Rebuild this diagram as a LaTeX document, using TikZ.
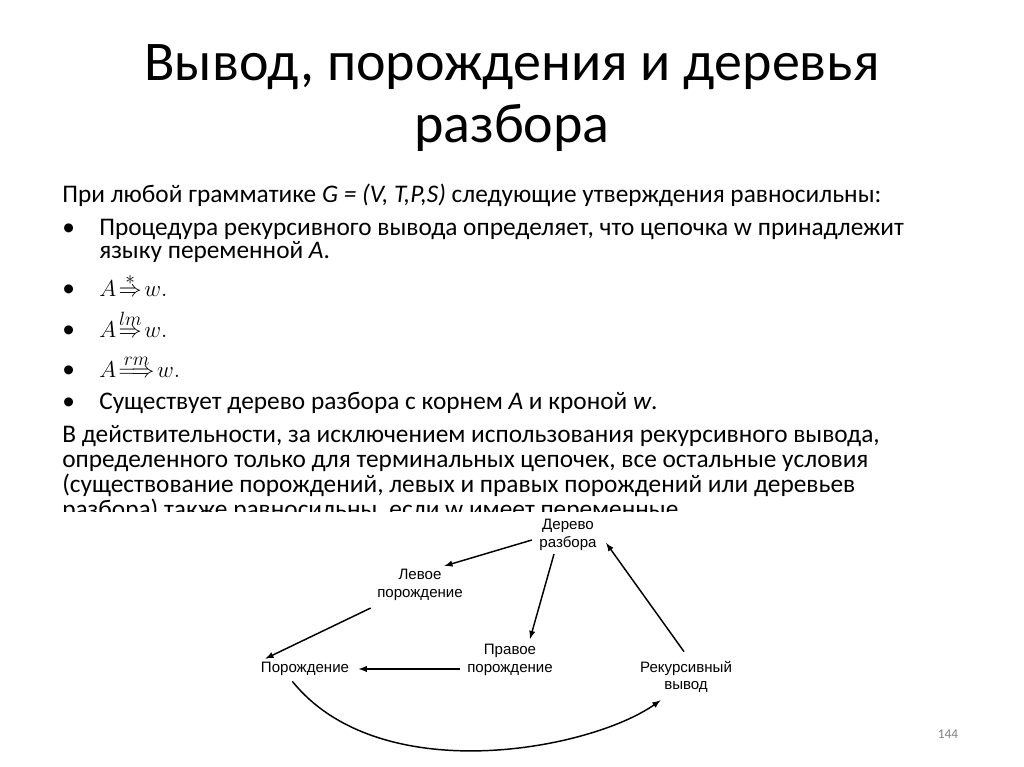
\documentclass[tikz,border=0pt]{standalone}
\usepackage{fontspec}
\setmainfont{Carlito}
\newfontfamily\diag{Liberation Sans}
\usetikzlibrary{calc}
\newcommand{\myarr}[2]{\mathrel{\mathop{#1}\limits^{\scriptstyle #2}}}
\begin{document}
\begin{tikzpicture}[x=0.75pt,y=-0.75pt,
  txt/.style={anchor=base west,inner sep=0pt,font=\fontsize{19pt}{22pt}\selectfont},
  lbl/.style={align=center,inner sep=1pt,font=\diag\fontsize{11.3pt}{13pt}\selectfont},
  arr/.style={-latex,line width=1.1pt}]
\useasboundingbox (0,0) rectangle (1024,767);
\node[font=\fontsize{42pt}{46pt}\selectfont,align=center] (title) at (512,98) {Вывод, порождения и деревья\\разбора};
\node[txt] (l1) at (62,202) {При любой грамматике \textit{G = (V, T,P,S)} следующие утверждения равносильны:};
\node[txt] (b1) at (62,235) {•};
\node[txt] (l2) at (99,235) {Процедура рекурсивного вывода определяет, что цепочка w принадлежит};
\node[txt] (l3) at (99,258) {языку переменной \textit{A}.};
\node[txt] (b2) at (62,296) {•};
\node[txt] (m1) at (99,296) {$A\!\myarr{\Rightarrow}{*}\! w.$};
\node[txt] (b3) at (62,337) {•};
\node[txt] (m2) at (99,337) {$A\!\myarr{\Rightarrow}{lm}\! w.$};
\node[txt] (b4) at (62,377) {•};
\node[txt] (m3) at (99,377) {$A\!\myarr{\Longrightarrow}{rm}\! w.$};
\node[txt] (b5) at (62,409) {•};
\node[txt] (l4) at (99,409) {Существует дерево разбора с корнем \textit{A} и кроной \textit{w}.};
\node[txt] (l5) at (62,442) {В действительности, за исключением использования рекурсивного вывода,};
\node[txt] (l6) at (62,467) {определенного только для терминальных цепочек, все остальные условия};
\node[txt] (l7) at (62,492) {(существование порождений, левых и правых порождений или деревьев};
\node[txt] (l8) at (62,517) {разбора) также равносильны, если w имеет переменные.};
\fill[white] (0,512) rectangle (1024,540);
\node[lbl] (dt) at (568,535) {Дерево\\разбора};
\node[lbl] (lp) at (420,585) {Левое\\порождение};
\node[lbl] (p) at (305,669) {Порождение};
\node[lbl] (rp) at (510,660) {Правое\\порождение};
\node[lbl] (rv) at (686,677) {Рекурсивный\\вывод};
\draw[arr] ($(dt.west)+(-6,5)$) -- ($(lp.north east)+(-20,-2)$);
\draw[arr] ($(lp.south west)+(-5,6)$) -- ($(p.north west)+(6,-2)$);
\draw[arr] ($(dt.south)+(-14,2)$) -- ($(rp.north)+(20,-4)$);
\draw[arr] (rp.west |- p.east) ++(-6,0) coordinate (c1) -- ($(p.east)+(8,0)$);
\draw[arr] ($(rv.north)+(-2,-8)$) -- ($(dt.east)+(8,8)$);
\draw[arr] ($(p.south west)+(33,4)$) .. controls (380,790) and (590,750) .. ($(rv.south west)+(22,6)$);
\node[font=\fontsize{10pt}{11pt}\selectfont,text=gray] (pg) at (948,734) {144};
\end{tikzpicture}
\end{document}
